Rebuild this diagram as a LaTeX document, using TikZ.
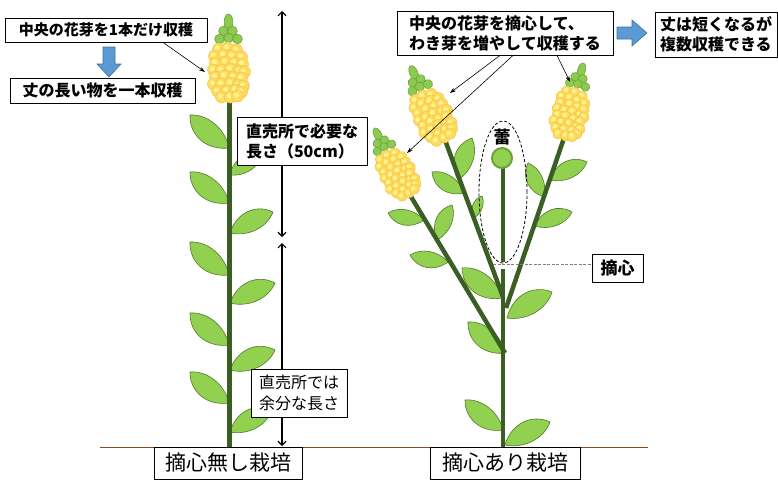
\documentclass[tikz,border=0pt]{standalone}
\usepackage{fontspec}
\setmainfont{Noto Sans CJK JP}
\usetikzlibrary{arrows.meta,calc,shapes.geometric}

\definecolor{stemgreen}{HTML}{3B5E24}
\definecolor{leaffill}{HTML}{92D050}
\definecolor{leafline}{HTML}{4F7A2C}
\definecolor{budfill}{HTML}{8CCB50}
\definecolor{budline}{HTML}{6AA33B}
\definecolor{beadfill}{HTML}{FFDA60}
\definecolor{beadline}{HTML}{F5C546}
\definecolor{beadlight}{HTML}{FFF38A}
\definecolor{arrowblue}{HTML}{5B9BD5}
\definecolor{arrowedge}{HTML}{41719C}
\definecolor{soil}{HTML}{8B4A1E}

% a leaf from its base (on the stem) to its tip
\newcommand\drawleaf[2]{%
  \draw[leafsty] (#1) .. controls ($(#1)!0.4386!46.8:(#2)$) and ($(#1)!0.8154!23.1:(#2)$) .. (#2)
    .. controls ($(#1)!0.7875!-17.7:(#2)$) and ($(#1)!0.3842!-38.7:(#2)$) .. cycle;}

\tikzset{
  leafsty/.style={fill=leaffill, draw=leafline, line width=0.6pt},
  stemsty/.style={draw=stemgreen, line width=4.5pt},
  bead/.style={fill=beadfill, draw=beadline, line width=0.5pt},
  budsty/.style={fill=budfill, draw=budline, line width=0.6pt},
  box/.style={draw=black, line width=0.8pt, fill=white, inner sep=0pt, align=left},
  pointer/.style={-{Stealth[length=6pt,width=4pt]}, line width=0.6pt},
  measure/.style={{Straight Barb[length=4pt,width=8pt]}-{Straight Barb[length=4pt,width=8pt]}, line width=1.2pt},
  blockarrow/.style={fill=arrowblue, draw=arrowedge, line width=0.6pt},
  flower/.pic={
    \draw[budsty] (-1,-79) ellipse[x radius=4.3, y radius=8];
    \foreach \bx/\by in {-6/-70,3/-70,-10/-62,-1/-63,8/-62}
      \draw[budsty] (\bx,\by) circle[radius=4.8];
    \foreach \bx/\by in {-11/-52,-2/-53,7/-51,
        -15/-45,-6/-46,3/-45,12/-44,
        -14/-38,-4/-39,5/-38,13/-37,
        -16/-31,-8/-31,1/-32,10/-30,15/-29,
        -14/-24,-5/-25,4/-24,12/-23,
        -16/-17,-8/-17,1/-18,9/-16,14/-15,
        -12/-10,-3/-10,6/-11,12/-9,
        -8/-4,1/-4,8/-5}{
      \draw[bead] (\bx,\by) circle[radius=6];
      \fill[beadlight] (\bx-1,\by-1) circle[radius=2.6];
    }
  }
}

\begin{document}
\begin{tikzpicture}[x=1pt,y=-1pt]
\useasboundingbox (0,0) rectangle (778,480);
\fill[white] (0,0) rectangle (778,480);

% ground
\draw[soil, line width=1pt] (100,447) -- (648,447);

% plant grown without pinching
\drawleaf{229,148}{190,115}
\drawleaf{230,175}{262,155}
\drawleaf{229,203}{190,172}
\drawleaf{230,233}{273,212}
\drawleaf{229,275}{190,242}
\drawleaf{230,303}{275,283}
\drawleaf{229,345}{190,313}
\drawleaf{230,370}{275,350}
\drawleaf{229,403}{190,372}
\drawleaf{230,432}{272,410}
\draw[stemsty] (229.5,447) -- (229.5,100);
\pic at (229.5,101) {flower};

% pinched plant
\drawleaf{424,220}{388,213}
\drawleaf{437,240}{452,205}
\drawleaf{448,262}{410,255}
\drawleaf{502,298}{462,268}
\drawleaf{507,318}{552,292}
\drawleaf{505,353}{468,322}
\drawleaf{503,430}{465,400}
\drawleaf{505,445}{550,422}
\drawleaf{458,180}{472,138}
\drawleaf{464,193}{432,172}
\drawleaf{474,218}{482,196}
\drawleaf{544,197}{528,163}
\drawleaf{550,180}{587,162}
\drawleaf{535,226}{572,212}
\draw[stemsty] (503,447) -- (503,269);
\draw[stemsty] (505,353) -- (410,195);
\draw[stemsty] (503,297) -- (445,140);
\draw[stemsty] (506,308) -- (564,138);
\draw[stemsty] (503,262) -- (503,166);
\draw[fill=leaffill, draw=budline, line width=2pt] (502,158) circle[radius=10];
\pic[rotate=27, scale=0.88] at (410,196) {flower};
\pic[rotate=24, scale=0.95] at (445,141) {flower};
\pic[rotate=-15, scale=0.9] at (564,139) {flower};

% pinched-off part
\node[font={\bfseries\fontsize{17}{17}\selectfont}] (tsubomi) at (502,137) {蕾};
\node[ellipse, draw, dashed, dash pattern=on 3pt off 2pt, line width=0.8pt,
      minimum width=48, minimum height=142, inner sep=0pt] (budzone) at (503,192) {};

% lengths
\coordinate (mtop) at (282,11);
\coordinate (mmid) at (282,240);
\coordinate (mbase) at (282,446);
\draw[measure] ([yshift=3pt]mmid) -- (mtop);
\draw[measure] ([yshift=-3pt]mmid) -- (mbase);

% labels
\node[box, minimum width=202, minimum height=24, font={\bfseries\fontsize{15}{18}\selectfont}]
  (harvestone) at (106,30) {中央の花芽を1本だけ収穫};
\node[box, minimum width=185, minimum height=25, font={\bfseries\fontsize{16}{18}\selectfont}]
  (longone) at (102.5,90.5) {丈の長い物を一本収穫};
\node[box, minimum width=130, minimum height=48, font={\bfseries\fontsize{16}{20}\selectfont}]
  (needed) at (302,141) {直売所で必要な\\長さ（50cm）};
\node[box, minimum width=96, minimum height=48, font={\fontsize{16}{21}\selectfont}]
  (extra) at (299,393) {直売所では\\余分な長さ};
\node[box, minimum width=148, minimum height=32, font={\fontsize{21}{22}\selectfont}]
  (nopinch) at (228,463) {摘心無し栽培};
\node[box, minimum width=150, minimum height=32, font={\fontsize{21}{22}\selectfont}]
  (withpinch) at (505,463) {摘心あり栽培};
\node[box, minimum width=216, minimum height=44, font={\bfseries\fontsize{16}{20}\selectfont}]
  (plan) at (505,33) {中央の花芽を摘心して、\\わき芽を増やして収穫する};
\node[box, minimum width=122, minimum height=45, font={\bfseries\fontsize{16}{20}\selectfont}]
  (result) at (716,34.5) {丈は短くなるが\\複数収穫できる};
\node[box, minimum width=51, minimum height=28, font={\bfseries\fontsize{17}{17}\selectfont}]
  (pinch) at (617.5,268) {摘心};

% pinch mark
\coordinate (cutpoint) at (493,264);
\draw[gray, dashed, dash pattern=on 3pt off 1.5pt, line width=0.8pt] (cutpoint) -- (cutpoint -| pinch.west);

% pointers
\coordinate (topflower) at (205,72);
\coordinate (flowerB) at (450,93);
\coordinate (flowerA) at (407,153);
\coordinate (flowerC) at (570,82);
\draw[pointer] ([xshift=57pt]harvestone.south) -- (topflower);
\draw[pointer] ([xshift=-5pt]plan.south) -- (flowerB);
\draw[pointer] ([xshift=8pt]plan.south) -- (flowerA);
\draw[pointer] ([xshift=52pt]plan.south) -- (flowerC);

% block arrows
\draw[blockarrow] (103,47) -- (115,47) -- (115,64) -- (121,64) -- (109,77) -- (97,64) -- (103,64) -- cycle;
\draw[blockarrow] (617,27) -- (632,27) -- (632,20) -- (647,33) -- (632,46) -- (632,39) -- (617,39) -- cycle;
\end{tikzpicture}
\end{document}
